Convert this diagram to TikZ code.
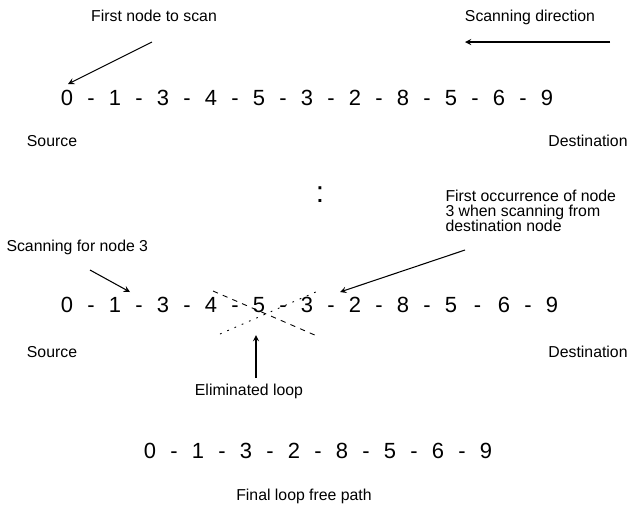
\documentclass[tikz,border=0pt]{standalone}
\usepackage{fontspec}
\setmainfont{Liberation Sans}
\usetikzlibrary{arrows.meta, positioning}
\newcommand{\tightlines}{\lineskiplimit-20pt\relax}

\begin{document}
\begin{tikzpicture}[x=0.02cm, y=-0.02cm, >=stealth, line width=0.6pt]
  \tikzset{
    lbl/.style={font={\fontsize{9}{8.4}\selectfont\tightlines}, inner sep=0pt},
    num/.style={font=\fontsize{12.5}{14}\selectfont, inner sep=0pt, anchor=base}
  }
  \useasboundingbox (0,0) rectangle (628,505);
  % path as found
  \foreach \d [count=\i from 0] in {0,1,3,4,5,3,2,8,5,6,9} {
    \node[num] (a\i) at (67+48*\i,105) {\d};
    \ifnum\i>0 \node[num] (da\i) at (43+48*\i,105) {-}; \fi
  }
  \node[lbl, anchor=base] (first) at (154,21) {First node to scan};
  \node[lbl, anchor=base] (dir) at (530,21) {Scanning direction};
  \node[lbl, anchor=base] (src1) at (52,146) {Source};
  \node[lbl, anchor=base] (dst1) at (588,146) {Destination};
  \coordinate (firstT) at (152,42);
  \coordinate (firstH) at (68,84);
  \draw[->] (firstT) -- (firstH);
  \coordinate (dirT) at (610,42);
  \coordinate (dirH) at (465,42);
  \draw[->] (dirT) -- (dirH);

  \node[font=\fontsize{17}{18}\selectfont, inner sep=0pt] (gap) at (320,195) {:};

  % scanning for the loop
  \foreach \d/\x [count=\i from 0, remember=\x as \px (initially 19)] in
      {0/67,1/115,3/163,4/211,5/259,3/307,2/355,8/403,5/451,6/504,9/552} {
    \node[num] (b\i) at (\x,312) {\d};
    \ifnum\i>0 \node[num] (db\i) at ({(\px+\x)/2},312) {-}; \fi
  }
  \node[lbl, anchor=base west] (scan) at (6,251) {Scanning for node 3};
  \node[lbl, anchor=north west, align=left] (occ) at (445,190)
    {First occurrence of node\\3 when scanning from\\destination node};
  \node[lbl, anchor=base] (src2) at (52,357) {Source};
  \node[lbl, anchor=base] (dst2) at (588,357) {Destination};
  \node[lbl, anchor=base] (elim) at (249,395) {Eliminated loop};
  \coordinate (scanT) at (90,270);
  \coordinate (scanH) at (130,292);
  \draw[->] (scanT) -- (scanH);
  \coordinate (occT) at (465,250);
  \coordinate (occH) at (340,292);
  \draw[->] (occT) -- (occH);
  \coordinate (elimT) at (256,378);
  \coordinate (elimH) at (256,335);
  \draw[->] (elimT) -- (elimH);
  % the cut out loop
  \draw[line width=0.5pt, dash pattern=on 3pt off 3pt] (213,291) -- (317,336);
  \draw[line width=0.5pt, dash pattern=on 1pt off 3.5pt] (220,334) -- (318,291);

  % result
  \foreach \d [count=\i from 0] in {0,1,3,2,8,5,6,9} {
    \node[num] (c\i) at (150+48*\i,458) {\d};
    \ifnum\i>0 \node[num] (dc\i) at (126+48*\i,458) {-}; \fi
  }
  \node[lbl, anchor=base] (final) at (304,500) {Final loop free path};
\end{tikzpicture}
\end{document}
